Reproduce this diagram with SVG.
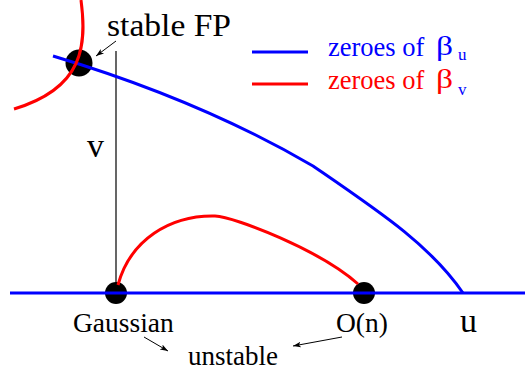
<svg xmlns="http://www.w3.org/2000/svg" width="525" height="376" viewBox="0 0 525 376">
<style>
text { font-family: "Liberation Serif", "Times New Roman", serif; fill: #000; }
.blue { fill: none; stroke: #0000ff; stroke-width: 3; }
.red { fill: none; stroke: #ff0000; stroke-width: 3; }
.dot { fill: #000; }
.arrow { fill: none; stroke: #000; stroke-width: 1; marker-end: url(#ah); }
.thin { stroke: #000; stroke-width: 1.2; }
.lb { fill: #0000ff; }
.lr { fill: #ff0000; }
</style>
<defs>
<marker id="ah" viewBox="0 0 10 10" refX="10" refY="5" markerWidth="8" markerHeight="8" markerUnits="userSpaceOnUse" orient="auto">
<path d="M0,1.5 L10,5 L0,8.5 L2.5,5 Z" fill="#000"/>
</marker>
</defs>
<rect width="525" height="376" fill="#fff"/>

<g id="node-stable-fp">
<circle class="dot" cx="79" cy="63" r="13.5"/>
<text x="107" y="36" font-size="31" textLength="124" lengthAdjust="spacingAndGlyphs">stable FP</text>
</g>
<g id="node-gaussian">
<circle class="dot" cx="116" cy="293" r="11"/>
<text x="73" y="332" font-size="27.5">Gaussian</text>
</g>
<g id="node-on">
<circle class="dot" cx="364" cy="293" r="11"/>
<text x="336" y="332" font-size="27.5">O(n)</text>
</g>
<g id="node-unstable">
<text x="188" y="365" font-size="27">unstable</text>
</g>
<g id="axis-labels">
<text x="87" y="157" font-size="34">v</text>
<text x="460" y="332" font-size="34">u</text>
</g>

<g id="curves">
<line class="thin" x1="116" y1="51" x2="116" y2="293"/>
<line class="blue" x1="10" y1="293" x2="525" y2="293"/>
<path class="blue" d="M53,56 Q200,100 313,166 C380,212 430,245 463,293"/>
<path class="red" d="M81,0 C87,45 84,88 14,109"/>
<path class="red" d="M118,285 C130,240 170,215 215,216 C235,217 320,250 358,284"/>
</g>

<g id="legend">
<line class="blue" x1="252" y1="52" x2="308" y2="52"/>
<line class="red" x1="252" y1="84" x2="308" y2="84"/>
<text class="lb" x="328" y="56" font-size="26.5">zeroes of</text>
<text class="lb" x="436" y="55" font-size="28" textLength="17" lengthAdjust="spacingAndGlyphs">β</text>
<text class="lb" x="458" y="60" font-size="17">u</text>
<text class="lr" x="328" y="89" font-size="26.5">zeroes of</text>
<text class="lr" x="436" y="88" font-size="28" textLength="17" lengthAdjust="spacingAndGlyphs">β</text>
<text class="lb" x="458" y="95" font-size="17">v</text>
</g>

<g id="connectors">
<line class="arrow" x1="116" y1="41" x2="96" y2="56"/>
<line class="arrow" x1="144" y1="337" x2="168" y2="351"/>
<line class="arrow" x1="342" y1="337" x2="293" y2="346"/>
</g>
</svg>
